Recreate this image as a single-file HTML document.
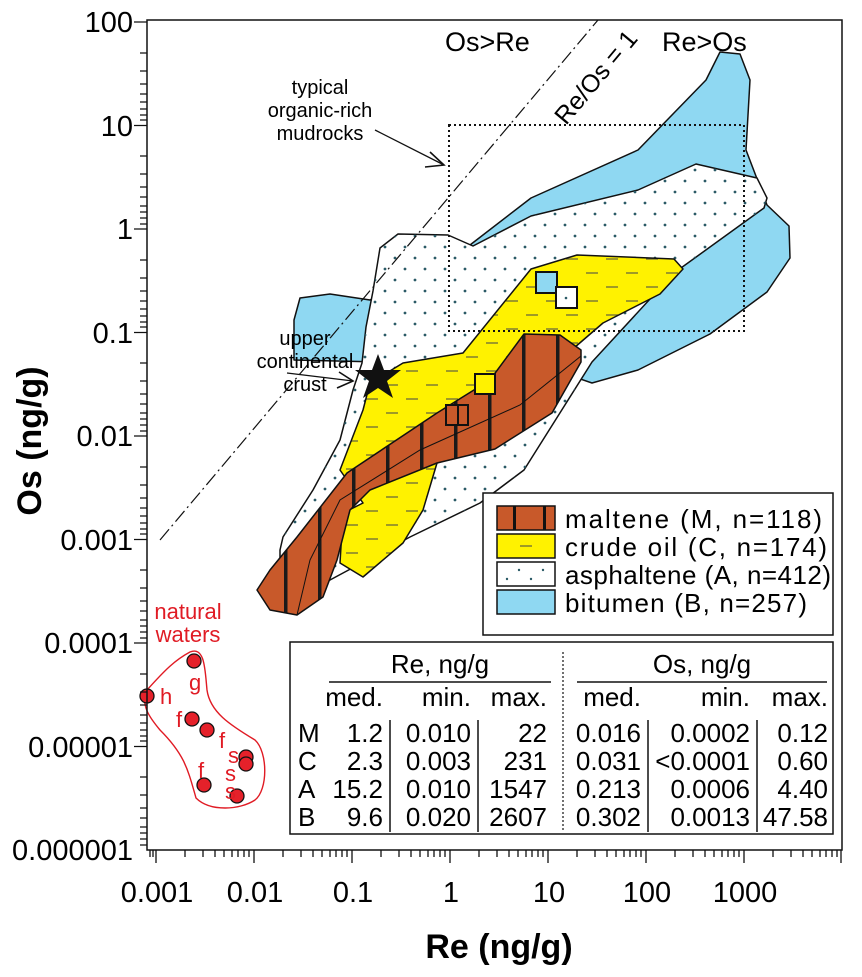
<!DOCTYPE html>
<html><head><meta charset="utf-8"><style>
html,body{margin:0;padding:0;background:#fff}
svg{display:block;font-family:"Liberation Sans",Arial,sans-serif}
</style></head><body>
<svg width="862" height="977" viewBox="0 0 862 977" xmlns="http://www.w3.org/2000/svg">
<defs>
<pattern id="dots" width="20" height="22" patternUnits="userSpaceOnUse">
<circle cx="5" cy="5" r="1.4" fill="#2a5a66"/><circle cx="15" cy="16" r="1.4" fill="#2a5a66"/>
</pattern>
<pattern id="dash" width="40" height="28" patternUnits="userSpaceOnUse">
<rect width="40" height="28" fill="#fff200"/>
<line x1="6" y1="7" x2="18" y2="7" stroke="#6b6b3a" stroke-width="1.3"/>
<line x1="26" y1="21" x2="38" y2="21" stroke="#6b6b3a" stroke-width="1.3"/>
</pattern>
<pattern id="malt" width="34" height="10" patternUnits="userSpaceOnUse" x="12">
<rect width="34" height="10" fill="#c8592a"/>
<rect x="0" width="3.5" height="10" fill="#1a1a1a"/>
</pattern>
</defs>
<rect width="862" height="977" fill="#fff"/>

<path d="M294,320 L300,298 L330,294 L370,300 L470,245 L531,198 L638,150 L706,80 L720,52 L740,54 L750,80 L746,150 L767,205 L789,226 L790,258 L767,292 L710,334 L638,370 L592,383 L560,372 L380,362 L294,360 Z" fill="#8fd8f2" stroke="#111" stroke-width="1.5" stroke-linejoin="round"/>
<path d="M362,363 L366,327 L373,291 L380,248 L398,234 L448,235 L473,246 L531,216 L638,190 L696,164 L757,178 L767,198 L764,208 L674,273 L592,362 L524,470 L480,503 L410,537 L330,580 L280,600 L280,550 L283,537 L313,490 L340,440 L353,390 Z" fill="#fff" stroke="#111" stroke-width="1.5" stroke-linejoin="round"/>
<path d="M362,363 L366,327 L373,291 L380,248 L398,234 L448,235 L473,246 L531,216 L638,190 L696,164 L757,178 L767,198 L764,208 L674,273 L592,362 L524,470 L480,503 L410,537 L330,580 L280,600 L280,550 L283,537 L313,490 L340,440 L353,390 Z" fill="url(#dots)"/>
<path d="M363,410 L370,383 L403,363 L463,353 L531,269 L577,255 L674,259 L683,269 L660,294 L603,323 L560,360 L520,430 L437,463 L423,510 L403,543 L363,577 L340,563 L343,513 L363,503 L340,470 Z" fill="url(#dash)" stroke="#111" stroke-width="1.5" stroke-linejoin="round"/>
<path d="M257,590 L270,570 L297,537 L347,473 L437,413 L490,380 L524,334 L560,335 L581,350 L581,362 L552,413 L495,449 L437,463 L370,490 L350,510 L337,560 L323,597 L297,615 L270,610 Z" fill="url(#malt)" stroke="#111" stroke-width="1.5" stroke-linejoin="round"/>
<path d="M297,615 L310,560 L340,500 L420,450 L520,405 L581,356" fill="none" stroke="#111" stroke-width="1"/>

<line x1="160" y1="540" x2="598" y2="20" stroke="#111" stroke-width="1.2" stroke-dasharray="14,4,2,4"/>
<text x="0" y="0" font-size="25" transform="translate(566,126) rotate(-50)">Re/Os = 1</text>
<text x="445" y="51" font-size="27">Os&gt;Re</text>
<text x="662" y="51" font-size="27">Re&gt;Os</text>

<rect x="449" y="125" width="295" height="206" fill="none" stroke="#111" stroke-width="2" stroke-dasharray="2,3"/>

<text font-size="20" text-anchor="middle"><tspan x="320" y="94">typical</tspan><tspan x="320" y="117">organic-rich</tspan><tspan x="320" y="140">mudrocks</tspan></text>
<line x1="375" y1="130" x2="444" y2="165" stroke="#111" stroke-width="1.3"/>
<polyline points="430,152 444,165 425,167" fill="none" stroke="#111" stroke-width="1.6"/>
<text font-size="20" text-anchor="middle"><tspan x="305" y="345">upper</tspan><tspan x="305" y="368">continental</tspan><tspan x="305" y="391">crust</tspan></text>
<line x1="287" y1="373" x2="353" y2="381" stroke="#111" stroke-width="1.3"/>
<polyline points="339,372 353,381 337,388" fill="none" stroke="#111" stroke-width="1.6"/>
<polygon points="378,354 384,370 401,370 387,381 393,398 378,388 363,398 369,381 355,370 372,370" fill="#111"/>

<rect x="536" y="272" width="21" height="21" fill="#8fd8f2" stroke="#111" stroke-width="2"/>
<rect x="556" y="287" width="21" height="21" fill="#fff" stroke="#111" stroke-width="2"/>
<circle cx="566" cy="298" r="1.3" fill="#2a5a66"/>
<rect x="475" y="374" width="20" height="20" fill="#fff200" stroke="#111" stroke-width="2"/>
<rect x="446" y="405" width="22" height="20" fill="#c8592a" stroke="#111" stroke-width="2"/>
<line x1="458" y1="405" x2="458" y2="425" stroke="#111" stroke-width="2"/>

<path d="M147,690 C165,670 175,660 190,652 C205,646 205,670 207,690 C210,712 230,725 255,740 C268,752 268,790 255,800 C240,810 210,812 196,798 C188,770 185,755 160,730 C150,718 140,705 147,690 Z" fill="none" stroke="#e01b24" stroke-width="1.4"/>
<text fill="#e01b24" font-size="22" text-anchor="middle"><tspan x="188" y="619">natural</tspan><tspan x="188" y="642">waters</tspan></text>
<g fill="#e5212a" stroke="#111" stroke-width="1.3">
<circle cx="147" cy="696" r="7"/><circle cx="194" cy="661" r="7"/><circle cx="192" cy="719" r="7"/><circle cx="207" cy="730" r="7"/>
<circle cx="246" cy="757" r="7"/><circle cx="246" cy="764" r="7"/><circle cx="204" cy="785" r="7"/><circle cx="237" cy="796" r="7"/>
</g>
<g fill="#e01b24" font-size="22">
<text x="160" y="704">h</text><text x="189" y="690">g</text><text x="176" y="727">f</text><text x="219" y="748">f</text>
<text x="228" y="763">s</text><text x="225" y="781">s</text><text x="225" y="799">s</text><text x="198" y="778">f</text>
</g>

<rect x="483" y="493" width="350" height="142" fill="#fff" stroke="#111" stroke-width="1.5"/>
<rect x="497" y="506" width="58" height="24" fill="#c8592a" stroke="#111" stroke-width="1.5"/>
<rect x="513" y="506" width="3" height="24" fill="#111"/><rect x="543" y="506" width="3" height="24" fill="#111"/>
<rect x="497" y="534" width="58" height="24" fill="#fff200" stroke="#111" stroke-width="1.5"/>
<line x1="520" y1="546" x2="532" y2="546" stroke="#6b6b3a" stroke-width="1.3"/>
<rect x="497" y="562" width="58" height="24" fill="#fff" stroke="#111" stroke-width="1.5"/>
<g fill="#2a5a66"><circle cx="507" cy="579" r="1.2"/><circle cx="519" cy="570" r="1.2"/><circle cx="531" cy="579" r="1.2"/><circle cx="543" cy="570" r="1.2"/></g>
<rect x="497" y="590" width="58" height="24" fill="#8fd8f2" stroke="#111" stroke-width="1.5"/>
<g font-size="26"><text x="565" y="528" textLength="257">maltene (M, n=118)</text><text x="565" y="556" textLength="262">crude oil (C, n=174)</text><text x="565" y="584" textLength="266">asphaltene (A, n=412)</text><text x="565" y="612" textLength="242">bitumen (B, n=257)</text></g>

<rect x="290" y="642" width="543" height="192" fill="#fff" stroke="#111" stroke-width="1.5"/>
<g font-size="26">
<text x="440" y="673" text-anchor="middle">Re, ng/g</text><text x="702" y="673" text-anchor="middle">Os, ng/g</text>
<line x1="329" y1="682" x2="551" y2="682" stroke="#111" stroke-width="1.5"/>
<line x1="577" y1="682" x2="827" y2="682" stroke="#111" stroke-width="1.5"/>
<line x1="563" y1="652" x2="563" y2="830" stroke="#111" stroke-width="1.2" stroke-dasharray="2,2"/>
<g stroke="#111" stroke-width="1.5"><line x1="390" y1="720" x2="390" y2="832"/><line x1="478" y1="720" x2="478" y2="832"/><line x1="648" y1="720" x2="648" y2="832"/><line x1="757" y1="720" x2="757" y2="832"/></g>
<g text-anchor="end">
<text x="383" y="706">med.</text><text x="471" y="706">min.</text><text x="547" y="706">max.</text>
<text x="641" y="706">med.</text><text x="750" y="706">min.</text><text x="828" y="706">max.</text>
<text x="383" y="742">1.2</text><text x="471" y="742">0.010</text><text x="547" y="742">22</text><text x="641" y="742">0.016</text><text x="750" y="742">0.0002</text><text x="828" y="742">0.12</text>
<text x="383" y="770">2.3</text><text x="471" y="770">0.003</text><text x="547" y="770">231</text><text x="641" y="770">0.031</text><text x="750" y="770">&lt;0.0001</text><text x="828" y="770">0.60</text>
<text x="383" y="798">15.2</text><text x="471" y="798">0.010</text><text x="547" y="798">1547</text><text x="641" y="798">0.213</text><text x="750" y="798">0.0006</text><text x="828" y="798">4.40</text>
<text x="383" y="826">9.6</text><text x="471" y="826">0.020</text><text x="547" y="826">2607</text><text x="641" y="826">0.302</text><text x="750" y="826">0.0013</text><text x="828" y="826">47.58</text>
</g>
<text x="298" y="742">M</text><text x="298" y="770">C</text><text x="298" y="798">A</text><text x="298" y="826">B</text>
</g>

<rect x="147" y="20" width="695" height="830" fill="none" stroke="#111" stroke-width="1.5"/>
<g font-size="29" text-anchor="end">
<text x="133" y="32">100</text><text x="133" y="136">10</text><text x="133" y="239">1</text><text x="133" y="343">0.1</text>
<text x="133" y="446">0.01</text><text x="133" y="550">0.001</text><text x="133" y="653">0.0001</text><text x="133" y="757">0.00001</text><text x="133" y="860">0.000001</text>
</g>
<g font-size="29" text-anchor="middle">
<text x="157" y="902">0.001</text><text x="255" y="902">0.01</text><text x="353" y="902">0.1</text><text x="451" y="902">1</text>
<text x="549" y="902">10</text><text x="647" y="902">100</text><text x="745" y="902">1000</text>
</g>
<text x="499" y="958" font-size="34" font-weight="bold" text-anchor="middle">Re (ng/g)</text>
<text x="0" y="0" font-size="34" font-weight="bold" text-anchor="middle" transform="translate(41,441) rotate(-90)">Os (ng/g)</text>
<g stroke="#111" stroke-width="1.3">
<path d="
M147,22h-13 M147,125.5h-13 M147,229h-13 M147,332.5h-13 M147,436h-13 M147,539.5h-13 M147,643h-13 M147,746.5h-13
M156,850v13 M254,850v13 M352,850v13 M450,850v13 M548,850v13 M646,850v13 M744,850v13 M841,850v13"/>
<path d="
M147,53h-7M147,71h-7M147,84h-7M147,94h-7M147,102h-7M147,109h-7M147,115h-7M147,120h-7
M147,156h-7M147,174h-7M147,187h-7M147,197h-7M147,206h-7M147,212h-7M147,218h-7M147,224h-7
M147,260h-7M147,278h-7M147,291h-7M147,301h-7M147,309h-7M147,316h-7M147,322h-7M147,327h-7
M147,363h-7M147,381h-7M147,394h-7M147,404h-7M147,413h-7M147,419h-7M147,425h-7M147,431h-7
M147,467h-7M147,485h-7M147,498h-7M147,508h-7M147,516h-7M147,523h-7M147,529h-7M147,534h-7
M147,570h-7M147,588h-7M147,601h-7M147,611h-7M147,620h-7M147,626h-7M147,632h-7M147,638h-7
M147,674h-7M147,692h-7M147,705h-7M147,715h-7M147,723h-7M147,730h-7M147,736h-7M147,741h-7
M147,777h-7M147,795h-7M147,808h-7M147,818h-7M147,827h-7M147,833h-7M147,839h-7M147,845h-7"/>
<path d="M150,850v7M153,850v7
M185,850v7M203,850v7M215,850v7M224,850v7M232,850v7M238,850v7M244,850v7M249,850v7
M283,850v7M301,850v7M313,850v7M322,850v7M330,850v7M336,850v7M342,850v7M347,850v7
M381,850v7M399,850v7M411,850v7M420,850v7M428,850v7M434,850v7M440,850v7M445,850v7
M479,850v7M497,850v7M509,850v7M518,850v7M526,850v7M532,850v7M538,850v7M543,850v7
M577,850v7M595,850v7M607,850v7M616,850v7M624,850v7M630,850v7M636,850v7M641,850v7
M675,850v7M693,850v7M705,850v7M714,850v7M722,850v7M728,850v7M734,850v7M739,850v7
M773,850v7M791,850v7M803,850v7M812,850v7M820,850v7M826,850v7M832,850v7M837,850v7"/>
</g>
</svg>
</body></html>
